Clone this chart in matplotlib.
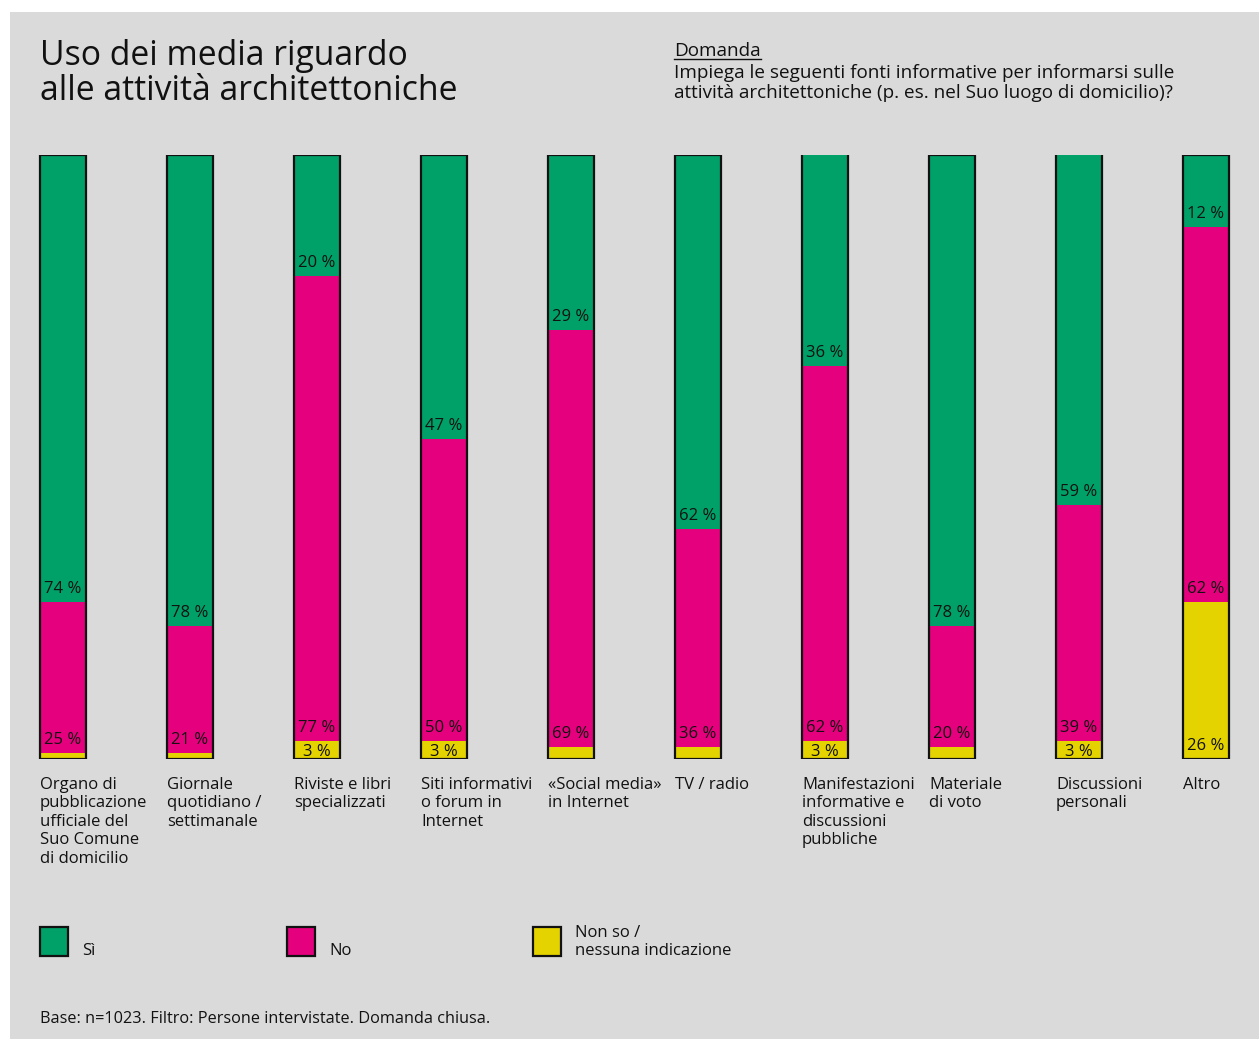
import matplotlib
matplotlib.use("Agg")
import matplotlib.pyplot as plt
from matplotlib.patches import Rectangle
import numpy as np

plt.rcParams["font.family"] = ["Open Sans", "DejaVu Sans"]

categories = [
    "Organo di\npubblicazione\nufficiale del\nSuo Comune\ndi domicilio",
    "Giornale\nquotidiano /\nsettimanale",
    "Riviste e libri\nspecializzati",
    "Siti informativi\no forum in\nInternet",
    "«Social media»\nin Internet",
    "TV / radio",
    "Manifestazioni\ninformative e\ndiscussioni\npubbliche",
    "Materiale\ndi voto",
    "Discussioni\npersonali",
    "Altro",
]
si = [74, 78, 20, 47, 29, 62, 36, 78, 59, 12]
no = [25, 21, 77, 50, 69, 36, 62, 20, 39, 62]
non_so = [1, 1, 3, 3, 2, 2, 3, 2, 3, 26]

series_names = ["Sì", "No", "Non so /\nnessuna indicazione"]
colors = ["#00a168", "#e5007d", "#e5d300"]
bg = "#dadada"
ink = "#111111"

W, H = 1259, 1039
fig = plt.figure(figsize=(W / 100, H / 100), dpi=100)
fig.patch.set_facecolor("white")


def fx(px):
    return px / W


def fy(py):
    return 1 - py / H


# grey panel behind everything
fig.patches.append(Rectangle((fx(10), 0), 1 - fx(10), fy(12), transform=fig.transFigure,
                             facecolor=bg, edgecolor="none", zorder=-10))

# bar area: 0% at y=759 px, 100% at y=155 px; bar pitch 127 px
pitch = 127.0
x0c = 63.0
xl, xr = -0.4, 9.4
ax = fig.add_axes([fx(x0c + xl * pitch), fy(759), (xr - xl) * pitch / W, (759 - 155) / H])
ax.set_xlim(xl, xr)
ax.set_ylim(0, 100)
ax.axis("off")
ax.patch.set_alpha(0)

label_fs = 12
bw = 46 / pitch
x = np.arange(len(categories))
stack = [non_so, no, si]
stack_colors = [colors[2], colors[1], colors[0]]
bottom = np.zeros(len(categories))
px_per_unit = 604 / 100
for vals, col in zip(stack, stack_colors):
    vals = np.array(vals, dtype=float)
    ax.bar(x, vals, bw, bottom=bottom, color=col, edgecolor="none", zorder=2)
    for xi, v, b in zip(x, vals, bottom):
        if v >= 3:
            off = min(9 / px_per_unit, (v - 12 / px_per_unit) / 2)
            ax.text(xi, b + off, f"{int(v)} %", ha="center", va="baseline",
                    fontsize=label_fs, color=ink, zorder=4)
    bottom = bottom + vals

# black outline around each whole bar
ax.bar(x, bottom, bw, fill=False, edgecolor=ink, linewidth=1.6, zorder=3)

# category labels, left-aligned under each bar
for xi, lab in zip(x, categories):
    ax.text(xi - bw / 2, -(777 - 759) / 604, lab, transform=ax.get_xaxis_transform(),
            ha="left", va="top", fontsize=label_fs, linespacing=1.2, color=ink)

# title
fig.text(fx(40), fy(100), "Uso dei media riguardo\nalle attività architettoniche",
         fontsize=24.3, ha="left", va="baseline", linespacing=1.03, color=ink)

# question
q_head = fig.text(fx(674), fy(56), "Domanda", fontsize=13.6, ha="left", va="baseline", color=ink)
fig.text(fx(674), fy(98),
         "Impiega le seguenti fonti informative per informarsi sulle\n"
         "attività architettoniche (p. es. nel Suo luogo di domicilio)?",
         fontsize=13.6, ha="left", va="baseline", linespacing=1.12, color=ink)
fig.canvas.draw()
bb = q_head.get_window_extent()
fig.add_artist(plt.Line2D([fx(674), bb.x1 / W], [fy(59), fy(59)], transform=fig.transFigure,
                          color=ink, linewidth=1.0))

# legend
leg_x = [40, 287, 533]
for lx, name, col in zip(leg_x, series_names, colors):
    fig.patches.append(Rectangle((fx(lx), fy(956)), 28 / W, 29 / H, transform=fig.transFigure,
                                 facecolor=col, edgecolor=ink, linewidth=1.6, zorder=3))
    fig.text(fx(lx + 42), fy(955), name, fontsize=label_fs, ha="left", va="baseline",
             linespacing=1.2, color=ink)

# footer
fig.text(fx(40), fy(1023), "Base: n=1023. Filtro: Persone intervistate. Domanda chiusa.",
         fontsize=11.7, ha="left", va="baseline", color=ink)

fig.savefig("out.png", dpi=100, facecolor=fig.get_facecolor())
